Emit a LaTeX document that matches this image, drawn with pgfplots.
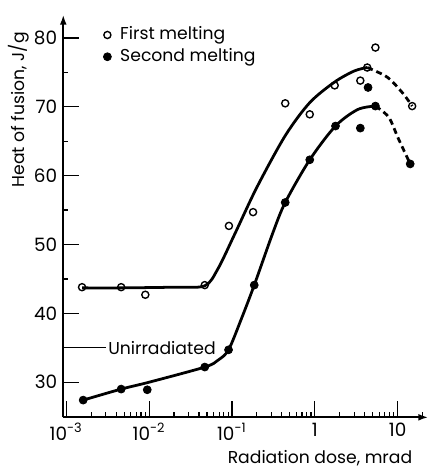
\documentclass[border=0pt]{standalone}
\usepackage{fontspec}
\setmainfont{Poppins}
\usepackage{pgfplots}
\pgfplotsset{compat=1.18}
\usetikzlibrary{arrows.meta}
\begin{document}
\fontsize{8.7}{10}\selectfont%
\begin{tikzpicture}
\begin{axis}[
  scale only axis, width=184.5pt, height=203.5pt,
  xmode=log, xmin=9.2e-4, xmax=23.4, ymin=24.9, ymax=83.35,
  axis lines=left,
  axis line style={line width=0.9pt, -{Latex[length=5pt,width=3.5pt]}},
  tick align=inside, major tick length=8pt, minor tick length=2.5pt,
  tick style={line width=0.6pt, black},
  tick label style={font=\fontsize{9.3}{11}\selectfont},
  xtick={0.001,0.01,0.1,1,10},
  xticklabels={10\textsuperscript{-3},10\textsuperscript{-2},10\textsuperscript{-1},1,10},
  minor xtick={0.002,0.003,0.004,0.005,0.006,0.007,0.008,0.009,0.02,0.03,0.04,0.05,0.06,0.07,0.08,0.09,0.2,0.3,0.4,0.5,0.6,0.7,0.8,0.9,2,3,4,5,6,7,8,9,20},
  ytick={30,40,50,60,70,80}, minor ytick={35,45,55,65,75},
  /pgf/number format/assume math mode=true,
  xlabel={Radiation dose, mrad}, ylabel={Heat of fusion, J/g},
  xlabel style={at={(rel axis cs:0.973,-0.1155)}, anchor=base east},
  ylabel style={at={(rel axis cs:-0.1057,0.764)}, anchor=base},
  clip=false,
  legend style={draw=none, fill=none, at={(rel axis cs:0.109,0.973)}, anchor=north west,
    row sep=2pt, column sep=4.5pt, inner sep=0pt, nodes={inner sep=0pt, text height=7pt, text depth=2pt}},
  legend cell align=left,
  legend image code/.code={\draw[mark repeat=2,mark phase=2,#1] plot coordinates {(0cm,0cm) (0.1cm,0cm) (0.26cm,0cm)};},
]
% bounding box matching the reference margins
\path (rel axis cs:-0.1734,-0.1229) rectangle (rel axis cs:1.0244,1.0369);
% fitted curves
\addplot[forget plot, smooth, line width=1.4pt] coordinates {
 (1.55e-3,43.7) (4.6e-3,43.7) (0.02,43.8) (0.047,44.0) (0.068,46.5) (0.109,51.6)
 (0.2,58.3) (0.44,65.8) (0.87,70.6) (1.74,73.6) (3.0,75.2) (4.3,75.7)};
\addplot[forget plot, smooth, line width=1.4pt, dash pattern=on 3pt off 2pt] coordinates {
 (4.3,75.7) (7.5,74.3) (11.5,72.0) (15,70.1)};
\addplot[forget plot, smooth, line width=1.4pt] coordinates {
 (1.6e-3,27.4) (4.6e-3,29.0) (0.01,30.0) (0.047,32.2) (0.068,33.2) (0.091,34.7)
 (0.13,39.2) (0.186,44.1) (0.31,51.6) (0.44,56.1) (0.87,62.3) (1.78,67.2) (3.3,69.6) (5.4,70.1)};
\addplot[forget plot, smooth, line width=1.4pt, dash pattern=on 3pt off 2pt] coordinates {
 (5.4,70.1) (7.8,68.5) (10.2,65.4) (14.2,61.7)};
% data
\addplot[only marks, mark=o, mark size=1.8pt, mark options={fill=white, line width=0.7pt}] coordinates {
 (1.55e-3,43.8) (4.6e-3,43.8) (9.0e-3,42.7) (0.047,44.1) (0.092,52.7) (0.18,54.7)
 (0.44,70.5) (0.87,68.9) (1.74,73.1) (3.55,73.8) (4.3,75.7) (5.4,78.6) (15,70.1)};
\addlegendentry{First melting}
\addplot[only marks, mark=*, mark size=2pt] coordinates {
 (1.6e-3,27.4) (4.6e-3,29.0) (9.5e-3,28.9) (0.047,32.2) (0.091,34.7) (0.186,44.1)
 (0.44,56.1) (0.87,62.3) (1.78,67.2) (3.55,66.9) (4.4,72.8) (5.4,70.1) (14.2,61.7)};
\addlegendentry{Second melting}
\draw[line width=0.5pt] (axis cs:9.2e-4,35) -- (axis cs:3.0e-3,35) node[right, inner sep=1pt]{Unirradiated};
\end{axis}
\end{tikzpicture}
\end{document}
